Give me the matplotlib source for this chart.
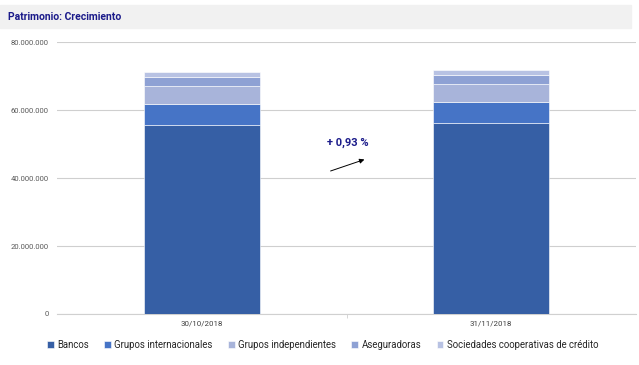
import numpy as np
import matplotlib.pyplot as plt
from matplotlib.patches import Rectangle
from matplotlib.ticker import FuncFormatter, FixedLocator

# Data (millones de euros)
fechas = ["30/10/2018", "31/11/2018"]
series = ["Bancos", "Grupos internacionales", "Grupos independientes",
          "Aseguradoras", "Sociedades cooperativas de crédito"]
bancos = [55.7e6, 56.3e6]
grupos_int = [6.2e6, 6.2e6]
grupos_indep = [5.1e6, 5.1e6]
aseguradoras = [2.8e6, 2.7e6]
sociedades = [1.3e6, 1.45e6]
crecimiento = "+ 0,93 %"

colores = ["#365FA5", "#4674C6", "#A8B4DA", "#8EA1D4", "#B8C2E3"]
valores = [bancos, grupos_int, grupos_indep, aseguradoras, sociedades]

plt.rcParams['font.family'] = ['Roboto', 'DejaVu Sans']

fig = plt.figure(figsize=(6.39, 3.65), dpi=100)
# title band
fig.patches.append(Rectangle((0, 1 - 28 / 365), 631 / 639, 23 / 365,
                             transform=fig.transFigure, color="#F1F1F1", zorder=0))
fig.text(8 / 639, 1 - 17 / 365, "Patrimonio: Crecimiento", color="#1B1B8A",
         fontsize=7.5, fontweight="bold", va="center", ha="left")

ax = fig.add_axes([57 / 639, 1 - 314 / 365, 579 / 639, 272 / 365])
x = np.arange(len(fechas))
bottom = np.zeros(len(fechas))
for nombre, vals, col in zip(series, valores, colores):
    ax.bar(x, vals, width=0.4, bottom=bottom, color=col, label=nombre,
           edgecolor="white", linewidth=0.4, zorder=3)
    bottom += np.array(vals)

ax.set_xlim(-0.5, 1.5)
ax.set_ylim(0, 80e6)
ax.set_yticks(np.arange(0, 80e6 + 1, 20e6))
ax.yaxis.set_major_formatter(FuncFormatter(lambda v, p: f"{int(v):,}".replace(",", ".")))
ax.set_xticks(x)
ax.set_xticklabels(fechas)
ax.xaxis.set_minor_locator(FixedLocator([0.5]))
ax.grid(axis="y", color="#CFCFCF", linewidth=0.8, zorder=0)
for s in ["top", "right", "left"]:
    ax.spines[s].set_visible(False)
ax.spines["bottom"].set_color("#D0D0D0")
ax.tick_params(axis="y", length=0, labelsize=5.5, labelcolor="#595959", pad=6)
ax.tick_params(axis="x", which="major", length=0, labelsize=5.7, labelcolor="#404040", pad=5)
ax.tick_params(axis="x", which="minor", length=3, color="#D0D0D0")

ax.text(0.505, 50.3e6, crecimiento, color="#1B1B8A", fontsize=8, fontweight="bold",
        ha="center", va="center")
ax.annotate("", xy=(0.571, 45.7e6), xytext=(0.436, 41.8e6),
            arrowprops=dict(arrowstyle="-|>", color="black", lw=0.7, mutation_scale=7))

fig.legend(loc="center", bbox_to_anchor=(0.505, 1 - 345 / 365), ncol=5, frameon=False,
           fontsize=6.9, handlelength=0.7, handleheight=0.7, handletextpad=0.35,
           columnspacing=1.6, labelcolor="#262626")

fig.savefig("out.png", dpi=100)
